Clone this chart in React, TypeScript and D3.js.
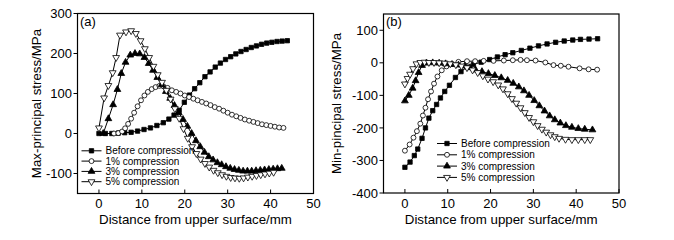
import React from 'react';
import * as d3 from 'd3';

type P = [number, number];

const FONT = "'Liberation Sans', Arial, Helvetica, sans-serif";

const seriesNames = ['Before compression', '1% compression', '3% compression', '5% compression'];
const xTicks = [0, 10, 20, 30, 40, 50];
const yTicksA = [-100, 0, 100, 200, 300];
const yTicksB = [-400, -300, -200, -100, 0, 100];

// Panel (a): max-principal stress
const maxBefore: P[] = [[0,0],[1.5,0],[3,0],[4.5,1],[6,2],[7.5,3],[9,6],[10.5,10],[12,14],[13.5,20],[15,27],[16.3,36],[17.5,46],[18.7,58],[19.9,78],[21.1,96],[22.3,112],[23.5,127],[24.7,142],[25.9,154],[27.1,166],[28.3,176],[29.5,185],[30.7,192],[31.9,199],[33.1,205],[34.3,210],[35.5,215],[36.7,219],[37.9,223],[39.1,226],[40.3,228],[41.5,230],[42.7,231],[43.9,232]];
const max1: P[] = [[3.5,0],[4.5,1],[5.4,5],[6.1,13],[6.8,24],[7.5,37],[8.2,52],[9,68],[9.8,83],[10.6,95],[11.4,104],[12.3,111],[13.2,116],[14.1,119],[15,118],[16,114],[17,108],[18,104],[19,100],[20,95],[21,91],[22,87],[23,83],[24,79],[25,75],[26,71],[27,66],[28,62],[29,57],[30,52],[31,47],[32,43],[33,39],[34,35],[35,32],[36,29],[37,26],[38,23],[39,21],[40,19],[41,17],[42,15],[43,14]];
const max3: P[] = [[1,0],[2.2,37],[3.3,72],[4.3,110],[5.2,150],[6.2,178],[7.3,196],[8.4,200],[9.5,199],[10.6,190],[11.6,175],[12.6,158],[13.6,140],[14.6,122],[15.6,105],[16.6,88],[17.6,70],[18.6,52],[19.6,35],[20.6,18],[21.6,0],[22.6,-18],[23.6,-33],[24.6,-47],[25.6,-58],[26.6,-66],[27.6,-73],[28.6,-78],[29.6,-83],[30.6,-87],[31.6,-90],[32.6,-92],[33.6,-94],[34.6,-94],[35.6,-94],[36.6,-93],[37.6,-92],[38.6,-91],[39.6,-90],[40.6,-89],[41.6,-88],[42.6,-87]];
const max5: P[] = [[0,14],[1.2,89],[2.2,120],[3.2,152],[4,190],[4.9,246],[6.3,254],[7.5,257],[8.6,250],[9.7,232],[10.7,212],[11.7,190],[12.7,168],[13.7,147],[14.7,128],[15.7,108],[16.7,86],[17.7,62],[18.7,38],[19.7,12],[20.7,-12],[21.7,-33],[22.7,-50],[23.7,-64],[24.7,-75],[25.7,-84],[26.7,-92],[27.7,-98],[28.7,-103],[29.7,-107],[30.7,-110],[31.7,-111],[32.7,-112],[33.7,-111],[34.7,-109],[35.7,-107],[36.7,-105],[37.7,-103],[38.7,-101],[39.7,-99],[40.7,-97]];

// Panel (b): min-principal stress
const minBefore: P[] = [[0,-321],[1.2,-305],[2.2,-285],[3,-265],[4,-232],[4.8,-200],[5.6,-170],[6.5,-147],[7.4,-128],[8.3,-108],[9.3,-88],[10.4,-69],[11.8,-45],[13.1,-27],[14.5,-13],[16,-5],[17.8,2],[19.8,10],[21.6,18],[23.4,25],[25.2,31],[27.2,38],[29.2,45],[31.2,52],[33.2,58],[35.2,63],[37.2,67],[39.2,70],[41,72],[43,73],[45,74]];
const min1: P[] = [[0,-270],[1.1,-251],[2,-230],[2.8,-210],[3.6,-187],[4.2,-162],[4.8,-138],[5.4,-112],[6.1,-88],[6.8,-64],[7.6,-42],[8.6,-23],[9.7,-11],[11,-4],[12.5,3],[14.5,5],[16.4,5],[18.4,6],[20.7,6],[23.1,7],[25.2,8],[27,9],[28.5,8],[30.5,7],[32.8,1],[34.7,-7],[36.4,-9],[38.2,-12],[40.8,-17],[42.9,-20],[44.9,-21]];
const min3: P[] = [[0,-117],[0.9,-100],[1.8,-78],[2.5,-55],[3.2,-30],[4,-8],[5,-1],[6.5,0],[8,-1],[9.5,-3],[11,-5],[12.5,-7],[14,-10],[15.2,-15],[16.5,-22],[18,-27],[19.5,-33],[21,-39],[22.5,-46],[24,-54],[25.3,-63],[26.6,-74],[27.8,-86],[29,-100],[30.2,-116],[31.4,-132],[32.6,-148],[33.8,-163],[35,-175],[36.3,-185],[37.6,-193],[39,-198],[40.5,-202],[42,-204],[43.8,-206]];
const min5: P[] = [[0,-65],[0.6,-48],[1.2,-35],[1.9,-18],[2.7,-3],[3.6,1],[4.6,2],[5.6,1],[6.8,1],[8,0],[9.3,-1],[10.6,-3],[11.9,-6],[13.2,-10],[14.5,-15],[15.8,-22],[17,-30],[18.2,-40],[19.4,-50],[20.6,-58],[21.8,-68],[22.9,-80],[24,-95],[25,-110],[26,-124],[27,-138],[28,-153],[29,-168],[30,-181],[31,-193],[32,-204],[33,-213],[34,-221],[35,-227],[36,-232],[37.5,-235],[39,-236],[40.5,-236],[42,-236],[43.3,-236]];

type Kind = 'square' | 'circle' | 'tri' | 'itri';
const kinds: Kind[] = ['square', 'circle', 'tri', 'itri'];

function Marker({ kind, cx, cy }: { kind: Kind; cx: number; cy: number }) {
  let type: any = d3.symbolSquare;
  let size = 19;
  if (kind === 'circle') { type = d3.symbolCircle; size = 19; }
  if (kind === 'tri' || kind === 'itri') { type = d3.symbolTriangle; size = 20; }
  const path = d3.symbol().type(type).size(size)() || '';
  const filled = kind === 'square' || kind === 'tri';
  const rot = kind === 'itri' ? ' rotate(180)' : '';
  return (
    <path d={path} transform={`translate(${cx},${cy})${rot}`}
      fill={filled ? '#000' : '#fff'} stroke="#000" strokeWidth={0.8} />
  );
}

interface Cfg {
  left: number; right: number; top: number; bottom: number;
  yDomain: [number, number]; yTicks: number[];
  series: P[][]; yLabel: string; yLabelX: number; panel: string;
  legX: number; legY0: number; legDy: number;
}

function Panel({ c }: { c: Cfg }) {
  const x = d3.scaleLinear().domain([-5, 50]).range([c.left, c.right]);
  const y = d3.scaleLinear().domain(c.yDomain).range([c.bottom, c.top]);
  const line = d3.line<P>().x(d => x(d[0])).y(d => y(d[1]));
  const cxMid = (c.left + c.right) / 2;
  const cyMid = (c.top + c.bottom) / 2;
  return (
    <g>
      {c.series.map((s, i) => (
        <g key={i}>
          <path d={line(s) || ''} fill="none" stroke="#000" strokeWidth={1} />
          {s.map((p, j) => <Marker key={j} kind={kinds[i]} cx={x(p[0])} cy={y(p[1])} />)}
        </g>
      ))}
      <rect x={c.left} y={c.top} width={c.right - c.left} height={c.bottom - c.top}
        fill="none" stroke="#000" strokeWidth={1.2} />
      {xTicks.map(t => (
        <g key={t}>
          <line x1={x(t)} x2={x(t)} y1={c.bottom} y2={c.bottom - 4} stroke="#000" strokeWidth={1} />
          <text x={x(t)} y={208} textAnchor="middle" fontSize={13} fontFamily={FONT}>{t}</text>
        </g>
      ))}
      {c.yTicks.map(t => (
        <g key={t}>
          <line x1={c.left - 4} x2={c.left} y1={y(t)} y2={y(t)} stroke="#000" strokeWidth={1} />
          <text x={c.left - 5.5} y={y(t)} dy="0.36em" textAnchor="end" fontSize={13} fontFamily={FONT}>{t}</text>
        </g>
      ))}
      <text x={cxMid} y={224} textAnchor="middle" fontSize={13.3} fontFamily={FONT}>Distance from upper surface/mm</text>
      <text transform={`translate(${c.yLabelX},${cyMid}) rotate(-90)`} textAnchor="middle" fontSize={13.3} fontFamily={FONT}>{c.yLabel}</text>
      <text x={c.left + 2.5} y={25.5} fontSize={13} fontFamily={FONT}>{c.panel}</text>
      {seriesNames.map((n, i) => {
        const ly = c.legY0 + i * c.legDy;
        return (
          <g key={n}>
            <line x1={c.legX} x2={c.legX + 20} y1={ly} y2={ly} stroke="#000" strokeWidth={1} />
            <Marker kind={kinds[i]} cx={c.legX + 10} cy={ly} />
            <text x={c.legX + 24} y={ly} dy="0.36em" fontSize={10} fontFamily={FONT}>{n}</text>
          </g>
        );
      })}
    </g>
  );
}

export default function App() {
  const a: Cfg = {
    left: 77.5, right: 313.5, top: 13.5, bottom: 193.5,
    yDomain: [-150, 300], yTicks: yTicksA,
    series: [maxBefore, max1, max3, max5],
    yLabel: 'Max-principal stress/MPa', yLabelX: 40.5, panel: '(a)',
    legX: 81.5, legY0: 150.8, legDy: 10.3,
  };
  const b: Cfg = {
    left: 383.5, right: 619, top: 14, bottom: 193,
    yDomain: [-400, 150], yTicks: yTicksB,
    series: [minBefore, min1, min3, min5],
    yLabel: 'Min-pincipal stress/MPa', yLabelX: 341, panel: '(b)',
    legX: 437, legY0: 143.5, legDy: 11.3,
  };
  return (
    <svg width={674} height={240} style={{ position: 'absolute', left: 0, top: 0, background: '#fff' }}>
      <rect x={0} y={0} width={674} height={240} fill="#fff" />
      <Panel c={a} />
      <Panel c={b} />
    </svg>
  );
}
